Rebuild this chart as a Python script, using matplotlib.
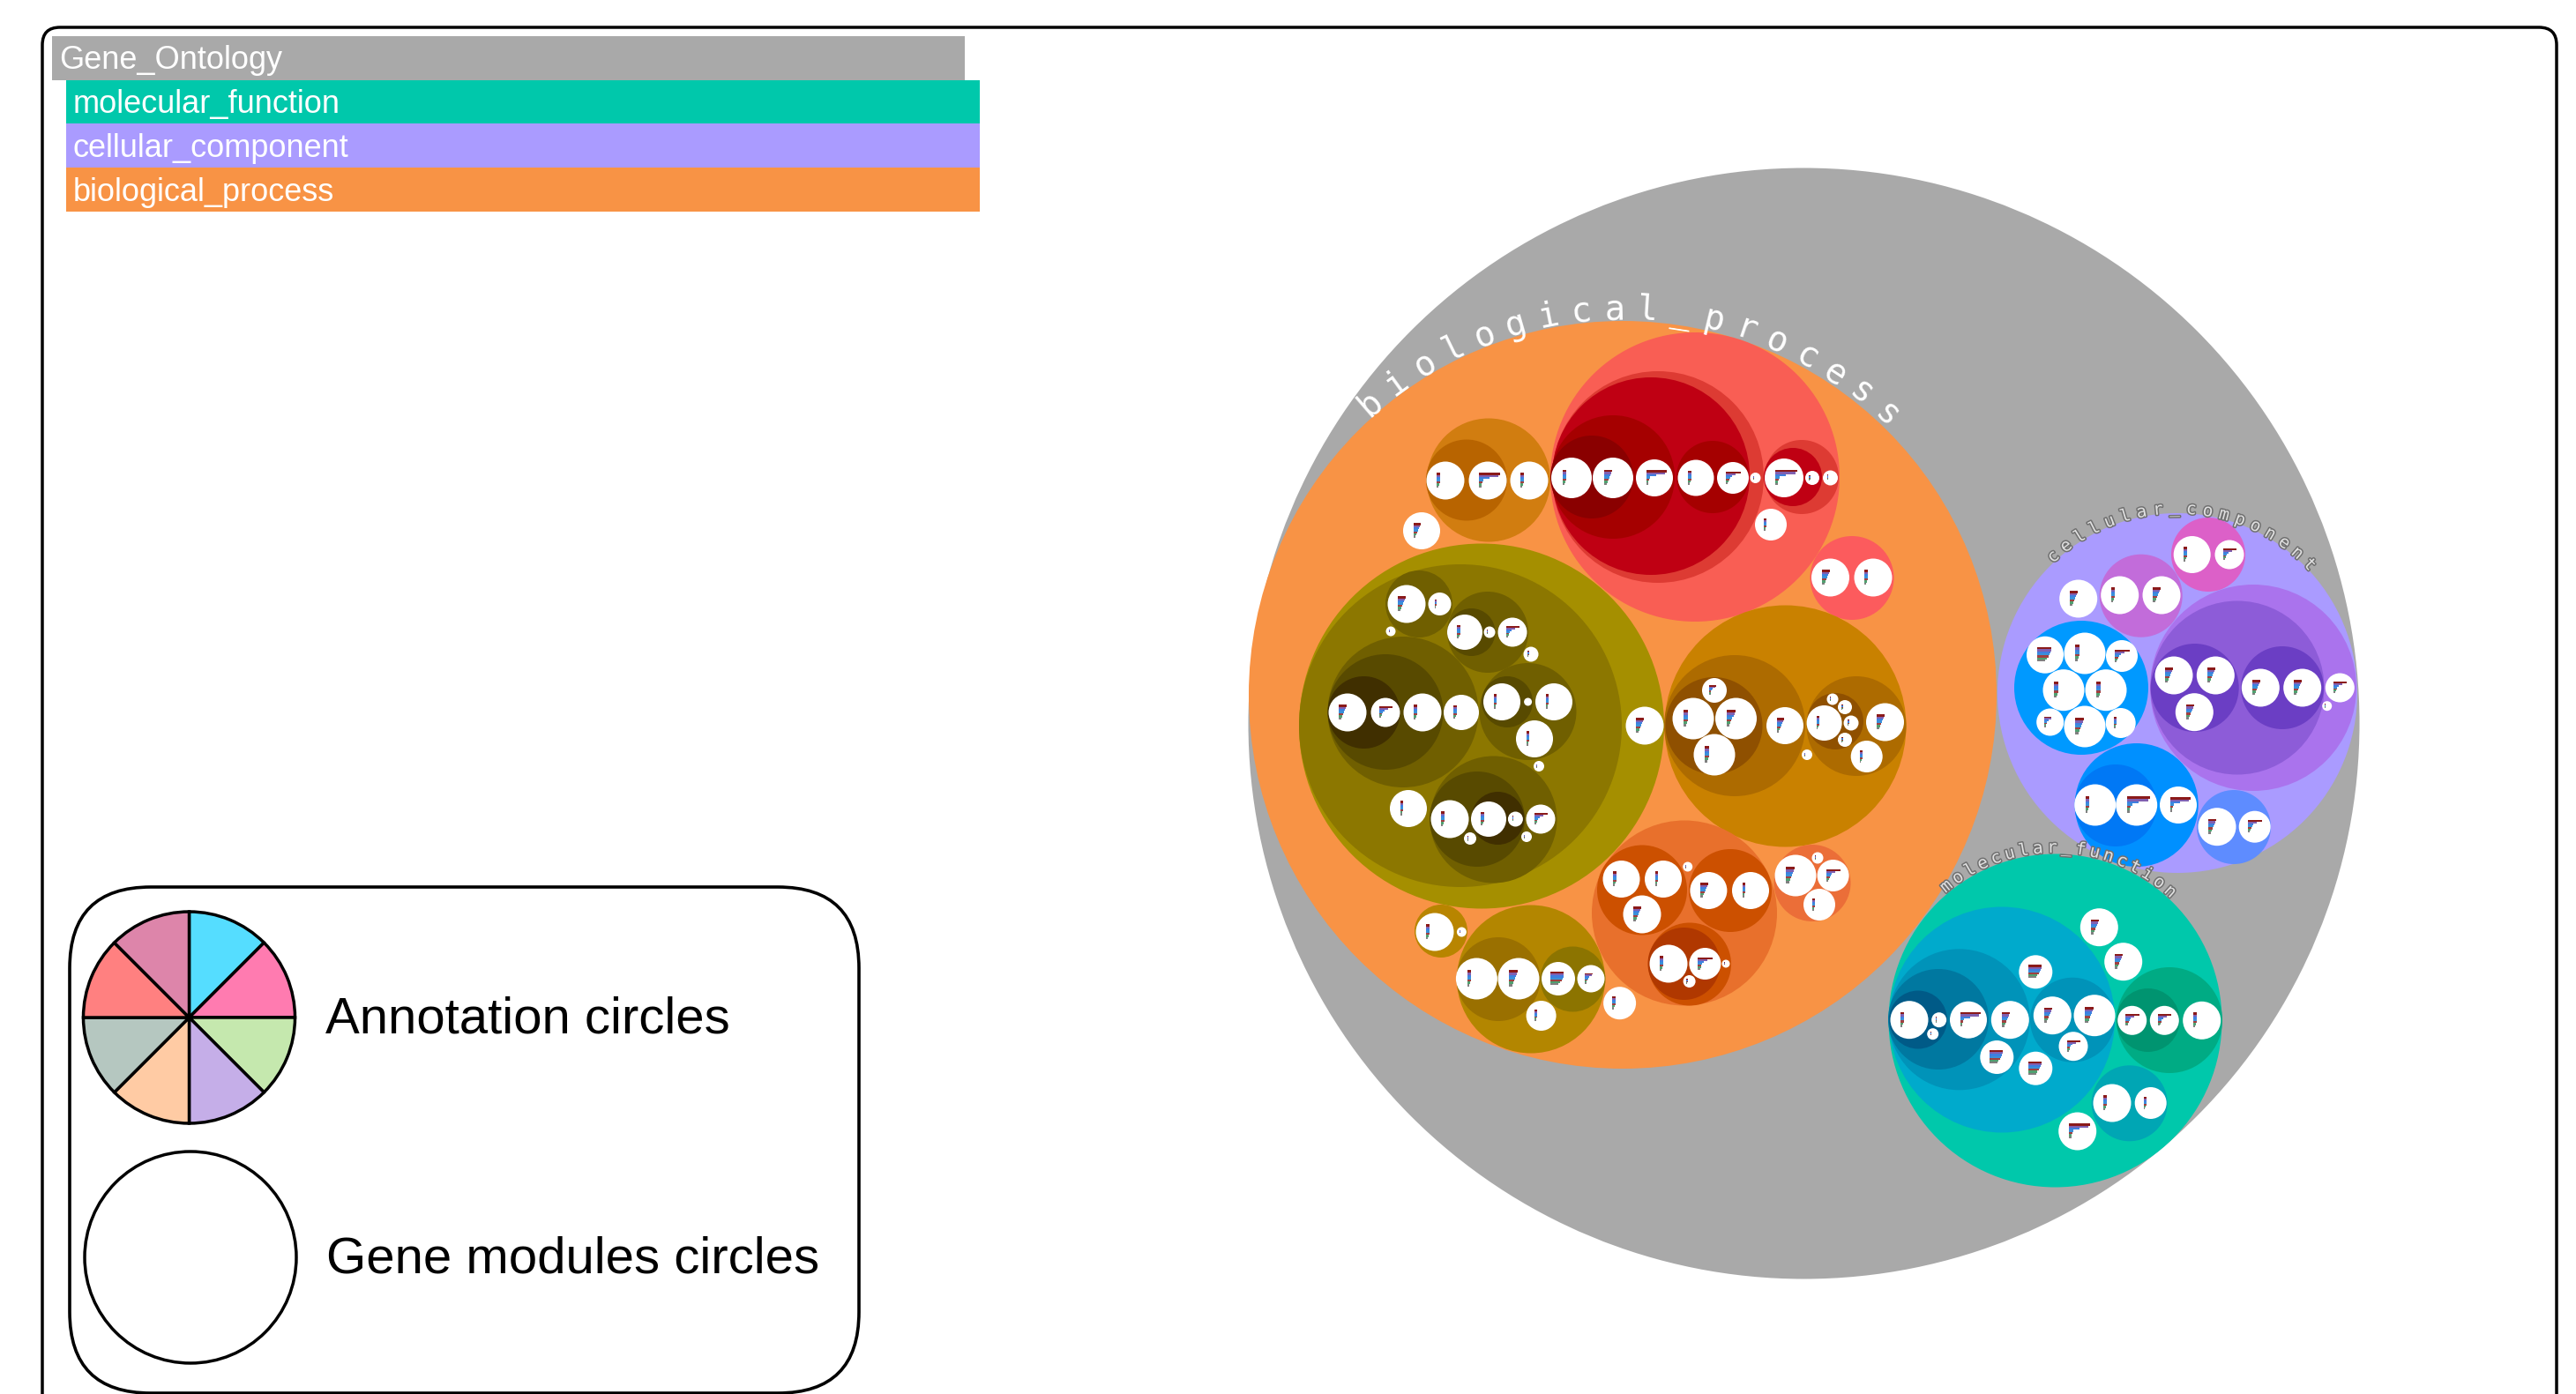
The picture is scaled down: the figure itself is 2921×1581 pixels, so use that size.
#Gene ontology circle packing, coordinates in image pixels
import numpy as np
import matplotlib
matplotlib.use('Agg')
import matplotlib.pyplot as plt
import matplotlib.patheffects as pe
from matplotlib.patches import Circle, Wedge, Rectangle, FancyBboxPatch

W, H = 2921, 1581

#Data
##############################################################################################
root = (2045.5, 820.5, 630, '#A9A9A9')

legend_names = ['Gene_Ontology', 'molecular_function', 'cellular_component', 'biological_process']
legend_colors = ['#A9A9A9', '#00C8AB', '#AA9BFF', '#F89345']

pie_values = [1, 1, 1, 1, 1, 1, 1, 1]
pie_colors = ['#55DDFF', '#FF7BB0', '#C5E8AE', '#C5AEE8', '#FFCBA4', '#B5C7C0', '#FF8080', '#DD85AA']
key_labels = ['Annotation circles', 'Gene modules circles']

#term circles: x, y, radius, colour (parents first)
bp_terms = [
    (1840, 788, 424, '#F89345'),
    (1922, 541, 164, '#F95E54'), (1880, 541, 120, '#DD3B33'), (1872, 540, 112, '#BF0013'),
    (1829, 541, 70, '#A50000'), (1805, 541, 47, '#8A0000'), (1942, 541, 41, '#A50000'),
    (2043, 541, 42, '#DD3B33'), (2033, 541, 33, '#BF0013'),
    (1688, 544.5, 70, '#D17D10'), (1663, 544.5, 46, '#B86400'),
    (2100, 655.5, 47.5, '#FC5B5D'),
    (1680, 823.5, 207, '#A58F00'), (1656, 823, 183, '#8C7700'),
    (1591, 807.5, 85.5, '#705F00'), (1571, 807.5, 65.5, '#584A00'), (1546.5, 808, 41, '#402F00'),
    (1609, 685, 38, '#705F00'),
    (1687, 717, 46, '#705F00'), (1668.5, 717, 27, '#584A00'),
    (1732.5, 807, 55, '#705F00'), (1709, 796, 29, '#584A00'),
    (1693.5, 929.5, 72, '#705F00'), (1675, 929, 54, '#584A00'), (1698.5, 928, 30, '#402F00'),
    (2024.5, 823.5, 137, '#C98100'), (1967, 823, 80, '#AD6B00'), (1943.5, 823, 55, '#8F5000'),
    (2105, 823.5, 56.5, '#AD6B00'), (2081, 818, 32, '#8F5000'),
    (1910, 1035.5, 105, '#E8702C'), (1862, 1009.5, 51, '#CC5000'), (1962, 1010, 47, '#CC5000'),
    (1916, 1093.5, 47, '#CC5000'), (1909.5, 1093, 41, '#B03800'),
    (2055, 1001.5, 43.5, '#EB6E38'),
    (1634, 1056, 30, '#B88500'),
    (1736, 1110.5, 84, '#B38600'), (1699, 1110.5, 47.5, '#9A7000'), (1783.5, 1110.5, 37, '#8C7400'),
]
cc_terms = [
    (2469, 786, 204, '#AA9BFF'),
    (2504, 629, 42, '#DC60C8'), (2427.7, 675.7, 47, '#C26CDA'),
    (2360, 780, 76, '#0099FF'),
    (2555, 780, 117, '#AA73ED'), (2537, 780, 98.5, '#8D5CD8'),
    (2488.7, 780, 50, '#6B3EC4'), (2588, 780, 47, '#6B3EC4'),
    (2422.7, 913, 70, '#0090FF'), (2399, 913.5, 46.5, '#0078F5'),
    (2533, 938, 42, '#5E8CFF'),
]
mf_terms = [
    (2330.5, 1157.5, 189, '#00C8AB'),
    (2270, 1156.5, 128, '#00AACC'), (2221.7, 1156.3, 80, '#0093B9'), (2198, 1156, 57, '#0078A0'),
    (2175, 1156.5, 33, '#005A87'), (2350, 1156.7, 48, '#0093B9'),
    (2460, 1157, 60, '#00AB84'), (2435.7, 1157, 36, '#009470'),
    (2414.7, 1251.3, 43, '#00A6B4'),
]

#gene module circles: x, y, radius, shape of the small bar chart inside
bp_modules = [
    (1782, 542, 23, 'n'), (1829, 542, 23, 'm'), (1876, 542, 21, 'w'), (1923, 542, 20.5, 'n'),
    (1965, 542, 18, 't'), (1990.5, 542, 6, 'n'), (2023, 542, 22, 'w'), (2055, 542, 8, 'n'),
    (2075.5, 542, 8.5, 'n'), (2008, 595, 18, 'n'),
    (1639, 545, 21.5, 'n'), (1687, 545, 21.5, 'w'), (1734, 545, 21.5, 'n'), (1612, 602, 21, 'm'),
    (2075.5, 655, 21.5, 'm'), (2124, 655, 21.5, 'n'),
    (1528, 808, 21.5, 'm'), (1571, 808, 16.5, 't'), (1613, 808, 21.5, 'n'), (1657, 808, 20, 'n'),
    (1595, 685, 21.5, 'm'), (1632.5, 685, 13, 'n'), (1577, 716, 5.5, 'n'),
    (1661, 717, 20, 'n'), (1689, 717, 6.5, 'n'), (1715, 717, 16.5, 't'), (1736, 742, 8.5, 'n'),
    (1703, 796, 21, 'n'), (1762, 796, 21, 'n'), (1732.6, 796, 4.5, 'n'), (1740, 838, 21, 'n'), (1745, 869, 6, 'n'),
    (1597, 917, 21, 'n'), (1644, 929, 21.5, 'n'), (1688, 929, 20, 'n'), (1718.4, 929, 8.5, 'n'),
    (1747, 929, 16.5, 't'), (1667, 951, 7, 'n'), (1731, 949, 6, 'n'),
    (1865, 823, 21.5, 'm'),
    (1944, 783, 14, 'f'), (1920, 815, 23.5, 'n'), (1968.5, 815, 23.5, 'm'), (1944, 856, 23.5, 'n'),
    (2024, 823, 21, 'm'), (2068.6, 820, 20, 'n'), (2078, 793, 6.5, 'n'), (2092, 802, 8, 'n'),
    (2099, 820, 8.5, 'n'), (2092, 839, 8, 'n'), (2137.5, 819, 21.5, 'm'), (2116.7, 858, 18, 'n'), (2049, 856, 6, 'n'),
    (1838.5, 997, 21, 'n'), (1886, 997, 21, 'n'), (1862, 1037, 21.5, 'm'), (1913.7, 983, 5.5, 'n'),
    (1937.4, 1010, 21, 'm'), (1985, 1010, 21, 'n'), (1892, 1093, 21.5, 'n'), (1933.4, 1093, 18, 't'),
    (1957, 1093, 4.5, 'n'), (1915.6, 1113, 7, 'n'),
    (2036, 993, 23.5, 'm'), (2078.6, 993, 18, 't'), (2063, 1026, 18, 'n'), (2061, 973, 6.5, 'n'),
    (1627, 1057, 21.5, 'n'), (1657.4, 1057, 5.5, 'n'),
    (1674.4, 1110, 23.5, 'n'), (1722, 1110, 23.5, 'm'), (1767, 1110, 19, 'b'), (1804, 1110, 15.5, 'f'),
    (1747.6, 1152, 17, 'n'), (1836.6, 1137.7, 18.5, 'n'),
]
cc_modules = [
    (2485.7, 629, 21, 'n'), (2528, 629, 16.5, 't'), (2403.7, 675, 21.5, 'n'), (2451, 675, 21.5, 'm'),
    (2356.7, 679, 21.5, 'm'),
    (2319, 742.7, 21, 'b'), (2364, 741, 23.5, 'n'), (2406, 744, 18, 't'), (2340, 782.7, 23.5, 'n'),
    (2388, 782.7, 23.5, 'n'), (2324.7, 819, 15.5, 'f'), (2364, 824, 23.5, 'm'), (2404.7, 820, 17, 'n'),
    (2465, 766, 21.5, 'm'), (2512.3, 766, 21.5, 'm'), (2488.3, 807.7, 21.5, 'm'),
    (2563.3, 780, 21.5, 'm'), (2610.7, 780, 21.5, 'm'), (2653.3, 780, 16.5, 't'), (2638.7, 800.7, 5.5, 'n'),
    (2375.7, 913, 23.5, 'n'), (2422.7, 913, 23.5, 'w'), (2470, 913, 21, 'w'),
    (2514, 937.7, 21.5, 'm'), (2556.7, 937.7, 18, 't'),
]
mf_modules = [
    (2165, 1156.7, 21.5, 'n'), (2198.7, 1156.7, 8.5, 'n'), (2191.7, 1172.7, 6.5, 'n'), (2232, 1156.7, 21, 'w'),
    (2279.3, 1156.7, 21.5, 'm'), (2327.3, 1151.7, 21.5, 'm'), (2375, 1151.7, 23.5, 'm'), (2351, 1186.7, 16.5, 't'),
    (2308.3, 1102.3, 19, 'b'), (2264.3, 1199, 19, 'b'), (2308.3, 1211.7, 19, 'b'),
    (2380.3, 1051.7, 21.5, 'm'), (2407.7, 1090.7, 21.5, 'm'),
    (2417.7, 1157.3, 16.5, 't'), (2454.3, 1157.3, 16.5, 't'), (2496.7, 1157.3, 21.5, 'n'),
    (2395, 1251, 21.5, 'n'), (2438.7, 1251, 18, 'n'), (2355.7, 1283, 21.5, 'w'),
]

#bar lengths (top to bottom) of the mini charts
bar_lengths = {
    'n': [4, 4, 4, 4, 4, 3, 2],
    'm': [9, 8, 7, 6, 5, 4, 3],
    't': [20, 13, 8, 6, 5, 4, 3],
    'w': [24, 22, 12, 5, 4, 3, 3],
    'f': [12, 11, 7, 5, 4, 3, 3],
    'b': [17, 17, 16, 15, 14, 12, 10],
}
bar_colors = ['#8B1A1A', '#8060B0', '#3F7FE0', '#3A90D8', '#A04040', '#50A070', '#808080']

#curved labels: text, circle centre, radius, first and last letter angle
arc_labels = [
    ('biological_process', 1840, 788, 437, 130.9, 46.6),
    ('cellular_component', 2469, 786, 209, 132.3, 44.2),
    ('molecular_function', 2330.5, 1157.5, 196, 129.0, 48.3),
]
##############################################################################################


plt.rcParams['font.family'] = ['Liberation Sans', 'DejaVu Sans']
fig = plt.figure(figsize=(W/100, H/100), dpi=100, facecolor='white')
ax = fig.add_axes([0, 0, 1, 1])


def draw_terms(terms):
    for x, y, r, c in terms:
        ax.add_patch(Circle((x, y), r, facecolor=c, edgecolor='none'))


def draw_modules(modules):
    for x, y, r, kind in modules:
        ax.add_patch(Circle((x, y), r, facecolor='white', edgecolor='none', zorder=3))
        s = r/21.5
        lengths = np.array(bar_lengths[kind])*s
        ys = y + (np.arange(len(lengths)) - 3.2)*2.4*s
        ax.barh(ys, lengths, height=2.4*s, left=x - 0.45*r, color=bar_colors, linewidth=0, zorder=4)


def draw_arc_label(text, cx, cy, R, a0, a1, fontsize, color, stroke=None):
    angles = np.linspace(a0, a1, len(text))
    for ch, a in zip(text, angles):
        t = np.radians(a)
        lab = ax.text(cx + R*np.cos(t), cy - R*np.sin(t), ch, fontsize=fontsize, color=color,
                      family='DejaVu Sans Mono', rotation=a - 90, rotation_mode='anchor',
                      ha='center', va='center', zorder=6)
        if stroke:
            lab.set_path_effects([pe.withStroke(linewidth=2.2, foreground=stroke)])


#page frame
ax.add_patch(FancyBboxPatch((68, 51), 2811, 1600, boxstyle='round,pad=20,rounding_size=20',
                            facecolor='white', edgecolor='black', linewidth=2.5, clip_on=True))

#circles
draw_terms([root])
draw_terms(bp_terms)
draw_terms(cc_terms)
draw_terms(mf_terms)
draw_modules(bp_modules)
draw_modules(cc_modules)
draw_modules(mf_modules)

for i, (text, cx, cy, R, a0, a1) in enumerate(arc_labels):
    if i == 0:
        draw_arc_label(text, cx, cy, R, a0, a1, 28, 'white')
    else:
        draw_arc_label(text, cx, cy, R, a0, a1, 14, '#E0E0E0', stroke='#707070')

#top left colour key
for i, (name, c) in enumerate(zip(legend_names, legend_colors)):
    x0, x1 = (59, 1094) if i == 0 else (75, 1111)
    y0 = 40.7 + i*49.8
    ax.add_patch(Rectangle((x0, y0), x1 - x0, 49.8, facecolor=c, edgecolor='none'))
    ax.text(x0 + 8, y0 + 28, name, color='white', fontsize=26, va='center', ha='left')

#bottom left key
ax.add_patch(FancyBboxPatch((171, 1098), 711, 390, boxstyle='round,pad=92,rounding_size=92',
                            facecolor='white', edgecolor='black', linewidth=2.6))
start = np.cumsum([0] + pie_values[:-1])*360.0/sum(pie_values) - 90
for a, v, c in zip(start, pie_values, pie_colors):
    ax.add_patch(Wedge((214.5, 1154), 120, a, a + v*360.0/sum(pie_values), facecolor=c,
                       edgecolor='black', linewidth=2.5))
ax.add_patch(Circle((216, 1426), 120, facecolor='white', edgecolor='black', linewidth=2.5))
ax.text(369, 1156, key_labels[0], fontsize=41.9, color='black', va='center', ha='left')
ax.text(370, 1428, key_labels[1], fontsize=41.9, color='black', va='center', ha='left')

ax.set_xlim(0, W)
ax.set_ylim(H, 0)
ax.axis('off')

fig.savefig('out.png', dpi=100, facecolor='white')
